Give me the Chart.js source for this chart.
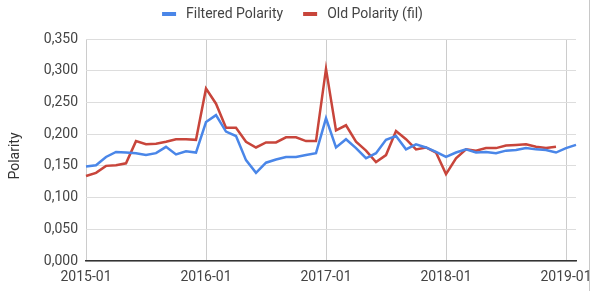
<!DOCTYPE html>
<html>
<head>
<meta charset="utf-8">
<script src="https://cdn.jsdelivr.net/npm/chart.js@4.4.0/dist/chart.umd.min.js"></script>
<style>
  body { margin: 0; background: #fff; }
  #wrap { width: 591px; height: 291px; position: relative; }
  #edge { position: absolute; left: 589px; top: 0; width: 1px; height: 291px; background: #c8c8c8; }
</style>
</head>
<body>
<div id="wrap"><canvas id="polarity"></canvas><div id="edge"></div></div>
<script>
// months 2015-01 .. 2019-02
var months = [];
for (var y = 2015; y <= 2019; y++) {
  for (var m = 1; m <= 12; m++) {
    if (y === 2019 && m > 2) break;
    months.push(y + '-' + (m < 10 ? '0' + m : m));
  }
}

var filteredPolarity = [
  0.149, 0.151, 0.164, 0.172, 0.171, 0.170, 0.167, 0.170, 0.180, 0.168,
  0.173, 0.171, 0.219, 0.230, 0.204, 0.197, 0.159, 0.139, 0.155, 0.160,
  0.164, 0.164, 0.167, 0.170, 0.225, 0.179, 0.192, 0.178, 0.162, 0.170,
  0.191, 0.197, 0.176, 0.184, 0.179, 0.172, 0.164, 0.171, 0.176, 0.171,
  0.172, 0.170, 0.174, 0.175, 0.178, 0.176, 0.175, 0.171, 0.178, 0.183
];

var oldPolarity = [
  0.134, 0.139, 0.150, 0.151, 0.154, 0.189, 0.184, 0.185, 0.188, 0.192,
  0.192, 0.191, 0.272, 0.248, 0.210, 0.210, 0.188, 0.179, 0.187, 0.187,
  0.195, 0.195, 0.189, 0.189, 0.303, 0.206, 0.214, 0.188, 0.174, 0.156,
  0.167, 0.205, 0.192, 0.176, 0.179, 0.171, 0.137, 0.162, 0.176, 0.174,
  0.178, 0.178, 0.182, 0.183, 0.184, 0.180, 0.178, 0.180
];

var yTitle = 'Polarity';

var blue = '#4a86e8';
var red = '#c8453b';

// legend + axis title drawn by hand so the spacing matches the sheets look
var extras = {
  id: 'extras',
  afterDraw: function (chart) {
    var c = chart.ctx;
    var sets = chart.data.datasets;
    c.save();
    c.font = '14px Roboto';
    c.textBaseline = 'middle';
    var widths = sets.map(function (d) { return 14 + 10 + c.measureText(d.label).width; });
    var total = widths.reduce(function (a, b) { return a + b; }, 0) + 20 * (sets.length - 1);
    var x = chart.width / 2 - 3 - total / 2;
    var yc = 14;
    sets.forEach(function (d, i) {
      c.fillStyle = d.borderColor;
      c.fillRect(x, yc - 2, 14, 4);
      c.fillStyle = '#444';
      c.fillText(d.label, x + 24, yc);
      x += widths[i] + 20;
    });
    // y axis title
    c.translate(15, 156);
    c.rotate(-Math.PI / 2);
    c.textAlign = 'center';
    c.fillStyle = '#333';
    c.fillText(yTitle, 0, 0);
    c.restore();
  }
};

var ctx = document.getElementById('polarity').getContext('2d');

var myChart = new Chart(ctx, {
  type: 'line',
  data: {
    labels: months,
    datasets: [{
      label: 'Filtered Polarity',
      data: filteredPolarity,
      borderColor: blue,
      backgroundColor: blue,
      borderWidth: 2.5,
      pointRadius: 0,
      tension: 0,
      fill: false
    }, {
      label: 'Old Polarity (fil)',
      data: oldPolarity,
      borderColor: red,
      backgroundColor: red,
      borderWidth: 2.5,
      pointRadius: 0,
      tension: 0,
      fill: false
    }]
  },
  plugins: [extras],
  options: {
    responsive: true,
    maintainAspectRatio: false,
    animation: false,
    layout: { padding: { left: 0, right: 15, top: 39, bottom: 0 } },
    plugins: {
      tooltip: { enabled: false },
      legend: { display: false }
    },
    scales: {
      x: {
        type: 'category',
        offset: false,
        grid: {
          drawTicks: false,
          color: function (c) {
            var lbl = months[c.index];
            return (lbl && lbl.slice(5) === '01') ? '#cccccc' : 'rgba(0,0,0,0)';
          }
        },
        border: { color: '#333', width: 1.5 },
        ticks: {
          autoSkip: false,
          maxRotation: 0,
          padding: 8,
          color: '#444',
          font: { family: 'Roboto', size: 14 },
          callback: function (v, i) {
            var lbl = months[i];
            return lbl.slice(5) === '01' ? lbl : '';
          }
        },
        afterFit: function (scale) { scale.height = 30; }
      },
      y: {
        min: 0,
        max: 0.35,
        grid: { color: '#dddddd', drawTicks: false },
        border: { display: false },
        ticks: {
          stepSize: 0.05,
          padding: 8,
          color: '#444',
          font: { family: 'Roboto', size: 14 },
          callback: function (v) { return v.toFixed(3).replace('.', ','); }
        },
        afterFit: function (scale) { scale.width = 86; }
      }
    }
  }
});
</script>
</body>
</html>
